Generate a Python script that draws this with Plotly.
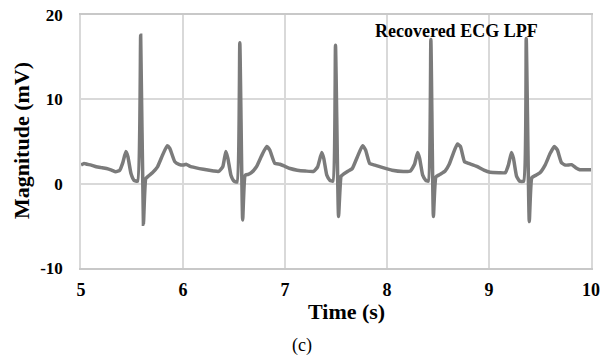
import plotly.graph_objects as go

# Recovered ECG (LPF) samples
time_s = [
    5.00, 5.03, 5.06, 5.10, 5.15, 5.20, 5.25, 5.30, 5.34, 5.38, 5.41, 5.44, 5.46, 5.49, 5.52, 5.555,
    5.585, 5.612, 5.635, 5.66, 5.70, 5.75, 5.80, 5.845, 5.87, 5.92, 5.96, 6.00, 6.03, 6.07,
    6.12, 6.20, 6.30, 6.35, 6.39, 6.42, 6.44, 6.47, 6.50, 6.53,
    6.557, 6.585, 6.61, 6.64, 6.67, 6.72, 6.77, 6.82, 6.85, 6.90, 6.95, 7.00,
    7.05, 7.12, 7.20, 7.28, 7.32, 7.36, 7.38, 7.41, 7.44, 7.47,
    7.495, 7.525, 7.55, 7.57, 7.62, 7.66, 7.71, 7.76, 7.79, 7.83, 7.88, 7.96,
    8.05, 8.16, 8.23, 8.27, 8.30, 8.32, 8.35, 8.38, 8.405,
    8.43, 8.455, 8.48, 8.52, 8.57, 8.61, 8.65, 8.69, 8.72, 8.76, 8.80, 8.88,
    8.95, 9.01, 9.10, 9.16, 9.19, 9.22, 9.24, 9.27, 9.30, 9.34,
    9.365, 9.395, 9.42, 9.46, 9.50, 9.55, 9.60, 9.64, 9.67, 9.71, 9.75, 9.81,
    9.85, 9.89, 9.95, 10.00,
]
magnitude_mv = [
    2.2, 2.4, 2.3, 2.2, 2.0, 1.9, 1.8, 1.6, 1.4, 1.6, 2.5, 3.8, 3.2, 1.2, 0.4, 0.3,
    17.6, -4.8, 0.6, 0.9, 1.3, 2.0, 3.4, 4.5, 4.2, 2.6, 2.3, 2.2, 2.3, 2.05,
    1.9, 1.7, 1.5, 1.45, 2.0, 3.8, 3.0, 1.0, 0.3, 0.2,
    16.7, -4.3, 1.0, 1.1, 1.3, 2.0, 3.3, 4.4, 4.0, 2.4, 2.3, 2.05,
    1.8, 1.6, 1.5, 1.45, 2.0, 3.7, 3.0, 1.0, 0.4, 0.3,
    16.4, -3.9, 0.9, 1.1, 1.5, 1.8, 3.2, 4.5, 4.0, 2.4, 2.2, 1.9,
    1.6, 1.45, 1.5, 2.3, 3.7, 3.0, 1.0, 0.4, 0.3,
    17.1, -3.9, 0.8, 1.1, 1.5, 2.3, 3.6, 4.7, 4.4, 2.6, 2.4, 2.05,
    1.6, 1.35, 1.3, 1.3, 2.2, 3.7, 3.0, 0.9, 0.3, 0.3,
    17.2, -4.5, 0.7, 1.0, 1.3, 2.2, 3.6, 4.4, 4.0, 2.5, 2.2, 2.25,
    1.9, 1.65, 1.65, 1.65,
]
x_ticks = [5, 6, 7, 8, 9, 10]
y_ticks = [-10, 0, 10, 20]

FONT = "Liberation Serif"
GRID = "#d9d9d9"
L, R, T, B = 81, 591, 15, 268  # plot area in pixels
W, H = 603, 356

fig = go.Figure()
fig.add_trace(go.Scatter(
    x=time_s, y=magnitude_mv, mode="lines",
    line=dict(color="#7b7b7b", width=3.5, shape="spline", smoothing=0.4),
    showlegend=False, hoverinfo="skip",
))

fig.update_layout(
    width=W, height=H,
    margin=dict(l=L, r=W - R, t=T, b=H - B),
    paper_bgcolor="white", plot_bgcolor="white",
    font=dict(family=FONT, color="black"),
    xaxis=dict(
        range=[5, 10], tickvals=x_ticks, ticktext=[str(v) for v in x_ticks],
        showgrid=True, gridcolor=GRID, gridwidth=1.5, zeroline=False,
        showline=True, linecolor="#c8c8c8", linewidth=1.5, mirror=True,
        tickfont=dict(family=FONT, size=18, color="black", weight="bold"),
        ticks="", ticklabelstandoff=5, automargin=False,
    ),
    yaxis=dict(
        range=[-10, 20], tickvals=y_ticks, ticktext=[str(v) for v in y_ticks],
        showgrid=True, gridcolor=GRID, gridwidth=1.5, zeroline=False,
        showline=True, linecolor=GRID, linewidth=1.5, mirror=True,
        tickfont=dict(family=FONT, size=17, color="black", weight="bold"),
        ticks="", ticklabelstandoff=13, automargin=False,
    ),
)


def px_to_paper(px, py):
    return (px - L) / (R - L), (B - py) / (B - T)


ax, ay = px_to_paper(456, 31)
fig.add_annotation(text="<b>Recovered ECG LPF</b>", x=ax, y=ay, xref="paper", yref="paper",
                   showarrow=False, xanchor="center", yanchor="middle",
                   font=dict(family=FONT, size=18, color="black"))
tx, ty = px_to_paper(346, 311)
fig.add_annotation(text="<b>Time (s)</b>", x=tx, y=ty, xref="paper", yref="paper",
                   showarrow=False, xanchor="center", yanchor="middle",
                   font=dict(family=FONT, size=22, color="black"))
mx, my = px_to_paper(21, 141)
fig.add_annotation(text="<b>Magnitude (mV)</b>", x=mx, y=my, xref="paper", yref="paper",
                   showarrow=False, xanchor="center", yanchor="middle", textangle=-90,
                   font=dict(family=FONT, size=22, color="black"))
cx, cy = px_to_paper(302, 345)
fig.add_annotation(text="(c)", x=cx, y=cy, xref="paper", yref="paper",
                   showarrow=False, xanchor="center", yanchor="middle",
                   font=dict(family=FONT, size=18, color="black"))

fig.write_html("out.html")
